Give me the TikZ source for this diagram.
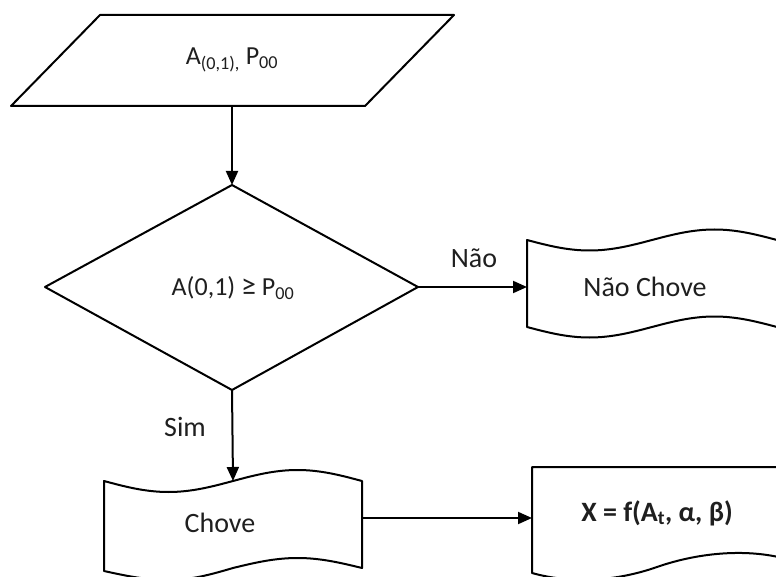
\documentclass[tikz,border=0pt]{standalone}
\usepackage{fontspec}
\setmainfont{Carlito}
\usetikzlibrary{arrows.meta}
\begin{document}
\begin{tikzpicture}[x=1pt,y=-1pt,
  shapeline/.style={draw=black,line width=2pt,line join=round},
  arr/.style={draw=black,line width=2pt,-{Triangle[length=14pt,width=12pt]}},
  lbl/.style={inner sep=0pt,text=black!88,font=\fontsize{28}{32}\selectfont},
  smalllbl/.style={inner sep=0pt,text=black!88,font=\fontsize{26}{30}\selectfont}]
\clip (0,0) rectangle (776,577);
\fill[white] (0,0) rectangle (776,577);
% input parallelogram
\draw[shapeline] (100,15) -- (454,15) -- (365,106) -- (11,106) -- cycle;
\coordinate (in-s) at (232,106);
\node[smalllbl] (in) at (232,60) {A\textsubscript{(0,1),} P\textsubscript{00}};
% decision diamond
\draw[shapeline] (232,185) -- (418,287) -- (232,390) -- (45,287) -- cycle;
\coordinate (dia-n) at (232,185);
\coordinate (dia-e) at (418,287);
\coordinate (dia-s) at (232,390);
\node[smalllbl] (dia) at (233,288) {A(0,1) {\fontsize{30}{30}\selectfont ≥} P\textsubscript{00}};
% Nao Chove tape
\draw[shapeline] (527,240) sin (589.5,250.5) cos (652,240) sin (714.5,229.5) cos (777,240)
  -- (777,327) sin (714.5,316.5) cos (652,327) sin (589.5,337.5) cos (527,327) -- cycle;
\coordinate (nc-w) at (527,287);
\node[lbl] (nc) at (645,287) {Não Chove};
% Chove tape
\draw[shapeline] (104,481) sin (168.5,492) cos (233,481) sin (297.5,470) cos (362,481)
  -- (362,568) sin (297.5,558) cos (233,568) sin (168.5,580) cos (104,571) -- cycle;
\coordinate (ch-n) at (233,481);
\coordinate (ch-e) at (362,518);
\node[lbl] (ch) at (220,523) {Chove};
% X document
\draw[shapeline] (532,467) -- (790,467) -- (790,560)
  .. controls (750,548) and (700,552) .. (657,567)
  .. controls (620,580) and (575,585) .. (532,573) -- cycle;
\coordinate (x-w) at (532,518);
\node[lbl,font=\fontsize{28}{32}\selectfont\bfseries] (xf) at (657,513) {X = f(A\textsubscript{t}, α, β)};
% connectors
\draw[arr] (in-s) -- (dia-n);
\draw[arr] (dia-e) -- (nc-w);
\draw[arr] (dia-s) -- (ch-n);
\draw[arr] (ch-e) -- (x-w);
% edge labels
\node[lbl] (nao) at (474,258) {Não};
\node[lbl] (sim) at (185,427) {Sim};
\end{tikzpicture}
\end{document}
